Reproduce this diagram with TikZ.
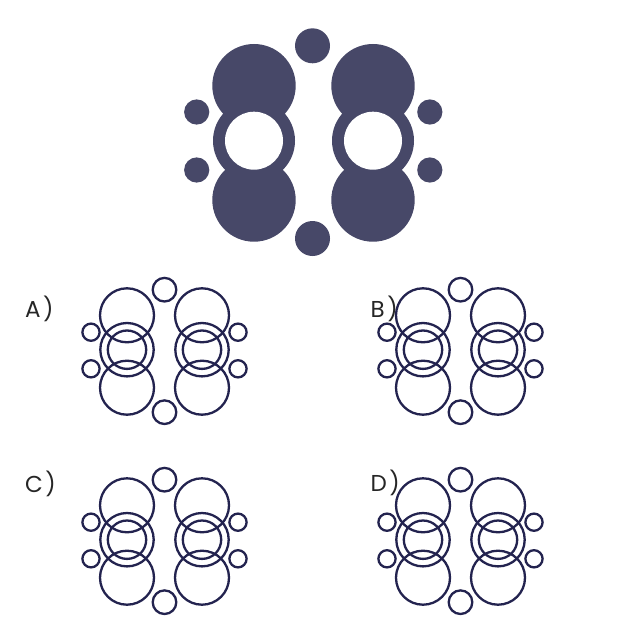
\documentclass[tikz,border=0pt]{standalone}
\usepackage{fontspec}
\newfontfamily\labfont{Poppins}
\definecolor{fillblue}{HTML}{474868}
\definecolor{linenavy}{HTML}{23234F}
\tikzset{
  solidc/.style={fill=fillblue, draw=none},
  ringc/.style={draw=linenavy, line width=2.3pt, fill=none},
  lab/.style={anchor=north west, inner sep=0pt, font=\labfont\fontsize{23}{23}\selectfont, text=black!85},
  opt/.pic={
    \foreach \sx in {-37.5,37.5}{
      \draw[ringc] (\sx,-34.4) circle (27);
      \draw[ringc] (\sx,0) circle (26.7);
      \draw[ringc] (\sx,0) circle (19.2);
      \draw[ringc] (\sx,38) circle (27);
    }
    \draw[ringc] (0,-60) circle (11.8);
    \draw[ringc] (0,62.5) circle (11.8);
    \foreach \sx in {-73.5,73.5}{
      \draw[ringc] (\sx,-17.5) circle (8.6);
      \draw[ringc] (\sx,19.1) circle (8.6);
    }
  }
}
\begin{document}
\begin{tikzpicture}[x=1pt,y=-1pt]
\useasboundingbox[fill=white] (0,0) rectangle (626,626);
% top figure
\foreach \cx in {254,373}{
  \fill[solidc] (\cx,85.7) circle (41.7);
  \fill[solidc] (\cx,140.7) circle (41);
  \fill[solidc] (\cx,200) circle (41.7);
  \fill[white] (\cx,140.7) circle (29);
}
\fill[solidc] (312.5,45.8) circle (17.5);
\fill[solidc] (312.5,238.5) circle (17.5);
\fill[solidc] (196.7,112) circle (12.6);
\fill[solidc] (196.7,170) circle (12.6);
\fill[solidc] (429.8,112) circle (12.6);
\fill[solidc] (429.8,170) circle (12.6);
% options
\pic at (164.5,349.7) {opt};
\pic at (460.5,349.7) {opt};
\pic at (164.5,539.7) {opt};
\pic at (460.5,539.7) {opt};
\node[lab] (la) at (25,296) {A\kern2.5pt)};
\node[lab] (lb) at (370.5,296) {B\kern2.5pt)};
\node[lab] (lc) at (25,471) {C\kern2.5pt)};
\node[lab] (ld) at (370.5,470) {D\kern2.5pt)};
\end{tikzpicture}
\end{document}
